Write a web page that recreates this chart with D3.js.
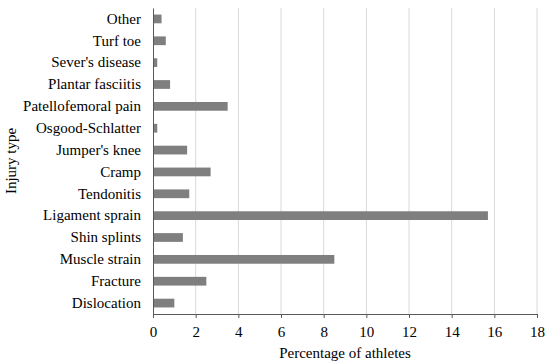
<!DOCTYPE html>
<html>
<head>
<meta charset="utf-8">
<script src="https://cdn.jsdelivr.net/npm/d3@7"></script>
<style>
  body { margin: 0; background: #fff; }
</style>
</head>
<body>
<div class="chart"></div>
<script>
// categories listed bottom to top, as in the picture
const categories = ["Dislocation", "Fracture", "Muscle strain", "Shin splints", "Ligament sprain",
  "Tendonitis", "Cramp", "Jumper's knee", "Osgood-Schlatter", "Patellofemoral pain",
  "Plantar fasciitis", "Sever's disease", "Turf toe", "Other"];
const percentages = [1.0, 2.5, 8.5, 1.4, 15.7, 1.7, 2.7, 1.6, 0.2, 3.5, 0.8, 0.2, 0.6, 0.4];
const xTicks = [0, 2, 4, 6, 8, 10, 12, 14, 16, 18];

const width = 550, height = 364;
const margin = { top: 8, right: 13, bottom: 50, left: 153 };
const serif = "'Liberation Serif', 'Times New Roman', 'DejaVu Serif', serif";

const svg = d3.select(".chart").append("svg")
  .attr("width", width)
  .attr("height", height)
  .style("font-family", serif);

const x = d3.scaleLinear()
  .domain([0, 18])
  .range([margin.left, width - margin.right]);

const y = d3.scaleBand()
  .domain(categories.slice().reverse())
  .range([margin.top, height - margin.bottom])
  .paddingInner(0.6)
  .paddingOuter(0.3);

// gridlines
svg.append("g")
  .selectAll("line")
  .data(xTicks.slice(1))
  .join("line")
  .attr("x1", d => x(d))
  .attr("x2", d => x(d))
  .attr("y1", margin.top)
  .attr("y2", height - margin.bottom)
  .attr("stroke", "#d9d9d9")
  .attr("stroke-width", 1);

// bars
svg.append("g")
  .selectAll("rect")
  .data(categories)
  .join("rect")
  .attr("x", x(0))
  .attr("y", d => y(d))
  .attr("height", y.bandwidth())
  .attr("width", (d, i) => x(percentages[i]) - x(0))
  .attr("fill", "#7f7f7f");

// x axis
const xAxis = svg.append("g")
  .attr("transform", `translate(0,${height - margin.bottom})`)
  .call(d3.axisBottom(x).tickValues(xTicks).tickSize(4).tickSizeOuter(0).tickPadding(8))
  .attr("font-family", serif);
xAxis.select(".domain").attr("stroke", "#595959");
xAxis.selectAll(".tick line").attr("stroke", "#595959");
xAxis.selectAll(".tick text")
  .style("font-family", serif).style("font-size", "15px").attr("fill", "#000");

// y axis
const yAxis = svg.append("g")
  .attr("transform", `translate(${margin.left},0)`)
  .call(d3.axisLeft(y).tickSize(0).tickPadding(12))
  .attr("font-family", serif);
yAxis.select(".domain").attr("stroke", "#595959");
yAxis.selectAll(".tick text")
  .style("font-family", serif).style("font-size", "15px").attr("fill", "#000");

// axis titles
svg.append("text")
  .attr("x", (x(0) + x(18)) / 2)
  .attr("y", 358)
  .attr("text-anchor", "middle")
  .style("font-family", serif)
  .style("font-size", "15px")
  .text("Percentage of athletes");

svg.append("text")
  .attr("transform", `translate(16,${(margin.top + height - margin.bottom) / 2}) rotate(-90)`)
  .attr("text-anchor", "middle")
  .style("font-family", serif)
  .style("font-size", "15px")
  .text("Injury type");
</script>
</body>
</html>
